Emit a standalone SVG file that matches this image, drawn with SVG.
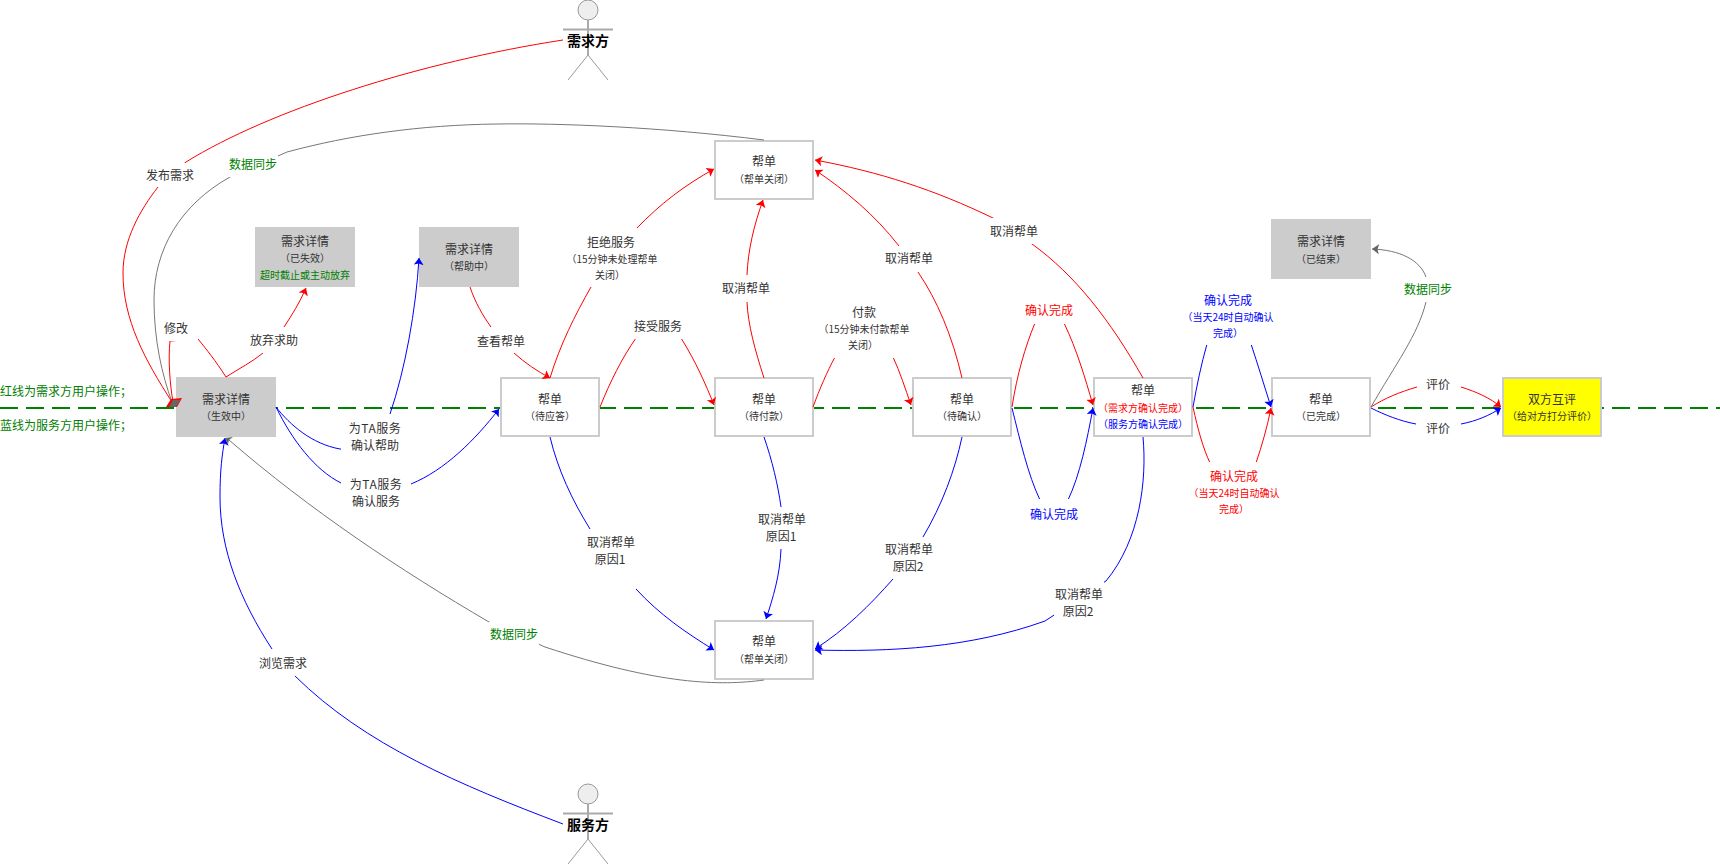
<svg xmlns="http://www.w3.org/2000/svg" width="1720" height="864" viewBox="0 0 1720 864">
<style>
text{font-family:"Noto Sans CJK SC","Microsoft YaHei","Noto Sans",sans-serif;font-size:12px;fill:#333;text-anchor:middle}
.s{font-size:10px}
.g{fill:#008000}
.r{fill:#f00}
.b{fill:#00f}
.ta{letter-spacing:.5px}
.lt{text-anchor:start;fill:#008000}
.bold{font-weight:bold;fill:#000;font-size:14px}
.e{fill:none;stroke-width:1}
.er{stroke:#f00;marker-end:url(#ar)}
.eb{stroke:#00f;marker-end:url(#ab)}
.eg{stroke:#777;marker-end:url(#ag)}
.nr{stroke:#f00;marker-end:none}
.ng{stroke:#777;marker-end:none}
.gn{fill:#ccc;stroke:none}
.wn{fill:#fff;stroke:#ccc;stroke-width:2}
.yn{fill:#ff0;stroke:#ccc;stroke-width:2}
.lb{fill:#fff}
.ac{fill:none;stroke:#999;stroke-width:1}
.ah{fill:#eee;stroke:#999}
.am{fill:none;stroke:#aaa;stroke-width:2}
</style>
<defs>
<marker id="ar" markerUnits="userSpaceOnUse" markerWidth="10" markerHeight="12" refX="7" refY="5" orient="auto"><path d="M0,0 L7,5 L0,10 L1.5,5 Z" fill="#f00"/></marker>
<marker id="ab" markerUnits="userSpaceOnUse" markerWidth="10" markerHeight="12" refX="7" refY="5" orient="auto"><path d="M0,0 L7,5 L0,10 L1.5,5 Z" fill="#00f"/></marker>
<marker id="ag" markerUnits="userSpaceOnUse" markerWidth="10" markerHeight="12" refX="7" refY="5" orient="auto"><path d="M0,0 L7,5 L0,10 L1.5,5 Z" fill="#666"/></marker>
</defs>
<path id="divider" d="M0,408 H1720" fill="none" stroke="#008000" stroke-width="2" stroke-dasharray="18 8"/>
<text class="lt" x="0" y="396">红线为需求方用户操作；</text>
<text class="lt" x="0" y="430">蓝线为服务方用户操作；</text>
<g id="actor-demand"><ellipse class="ah" cx="588" cy="10" rx="10" ry="10"/><path class="ac" d="M588,55 L568,80 M588,55 L608,80"/><path class="am" d="M588,20 V55 M563,29.5 H613"/><text class="bold" x="588" y="46">需求方</text></g>
<g id="actor-service"><ellipse class="ah" cx="588" cy="794" rx="10" ry="10"/><path class="ac" d="M588,839 L568,864 M588,839 L608,864"/><path class="am" d="M588,804 V839 M563,813.5 H613"/><text class="bold" x="588" y="830">服务方</text></g>
<g id="n-active"><rect class="gn" x="176" y="377" width="100" height="60"/><text x="226" y="404">需求详情</text><text class="s" x="226" y="420">（生效中）</text></g>
<g id="n-expired"><rect class="gn" x="255" y="227" width="100" height="60"/><text x="305" y="246">需求详情</text><text class="s" x="305" y="262">（已失效）</text><text class="s g" x="305" y="279">超时截止或主动放弃</text></g>
<g id="n-helping"><rect class="gn" x="419" y="227" width="100" height="60"/><text x="469" y="254">需求详情</text><text class="s" x="469" y="270">（帮助中）</text></g>
<g id="n-ended"><rect class="gn" x="1271" y="219" width="100" height="60"/><text x="1321" y="246">需求详情</text><text class="s" x="1321" y="263">（已结束）</text></g>
<g id="n-closed-top"><rect class="wn" x="715" y="141" width="98" height="58"/><text x="764" y="166">帮单</text><text class="s" x="764" y="183">（帮单关闭）</text></g>
<g id="n-closed-bottom"><rect class="wn" x="715" y="621" width="98" height="58"/><text x="764" y="646">帮单</text><text class="s" x="764" y="663">（帮单关闭）</text></g>
<g id="n-wait-answer"><rect class="wn" x="501" y="378" width="98" height="58"/><text x="550" y="404">帮单</text><text class="s" x="550" y="420">（待应答）</text></g>
<g id="n-wait-pay"><rect class="wn" x="715" y="378" width="98" height="58"/><text x="764" y="404">帮单</text><text class="s" x="764" y="420">（待付款）</text></g>
<g id="n-wait-confirm"><rect class="wn" x="913" y="378" width="98" height="58"/><text x="962" y="404">帮单</text><text class="s" x="962" y="420">（待确认）</text></g>
<g id="n-confirming"><rect class="wn" x="1094" y="378" width="98" height="58"/><text x="1143" y="395">帮单</text><text class="s r" x="1143" y="412">（需求方确认完成）</text><text class="s b" x="1143" y="428">（服务方确认完成）</text></g>
<g id="n-done"><rect class="wn" x="1272" y="378" width="98" height="58"/><text x="1321" y="404">帮单</text><text class="s" x="1321" y="420">（已完成）</text></g>
<g id="n-review"><rect class="yn" x="1503" y="378" width="98" height="58"/><text x="1552" y="404">双方互评</text><text class="s" x="1552" y="420">（给对方打分评价）</text></g>
<g id="connectors">
<path class="e nr" d="M563,40 C420,62 270,110 186,162 L158,187 C140,210 123,240 123,273 C123,320 145,360 172,402"/>
<path class="e nr" d="M226,377 C215,360 207,350 198,339 L170,341 C168,360 170,385 173,402"/>
<path class="e ng" d="M764,140 C660,127 560,123 497,124 C420,125 350,135 287,152 L230,177 C180,205 154,250 154,300 C154,340 162,375 172,402"/>
<path d="M166,407 L171,399 L182,398 L177,407 Z" fill="#f00"/>
<path d="M169,407 L173,400 L180,400 L176,407 Z" fill="#666"/>
<path class="e er" d="M226,377 C240,368 252,362 263,353 L284,327 C292,315 300,302 306,288"/>
<path class="e eb" d="M276,407 C290,425 312,444 340,449 C360,452 380,440 390,414 C405,370 416,310 419,258"/>
<path class="e eb" d="M276,407 C292,440 315,470 341,483 C355,490 395,490 411,484 C445,470 475,440 499,409"/>
<path class="e er" d="M470,287 C475,302 483,316 491,327 L514,353 C525,363 537,371 550,378"/>
<path class="e er" d="M550,378 C560,345 575,315 591,287 L637,228 C660,204 685,185 714,169"/>
<path class="e er" d="M600,407 C610,382 622,358 636,338 L681,338 C696,362 706,385 714,405"/>
<path class="e er" d="M764,378 C755,350 748,325 747,302 L747,275 C748,250 754,225 763,200"/>
<path class="e er" d="M813,407 C820,388 827,372 835,357 L893,357 C900,372 905,388 911,405"/>
<path class="e er" d="M962,378 C952,335 937,300 918,272 L899,246 C875,215 845,190 815,170"/>
<path class="e er" d="M1143,378 C1110,320 1075,275 1032,244 L993,218 C935,190 880,172 815,160"/>
<path class="e er" d="M1012,407 C1017,375 1025,347 1035,323 L1064,323 C1077,350 1085,378 1093,405"/>
<path class="e eb" d="M1012,408 C1020,440 1028,475 1040,500 L1068,500 C1080,475 1087,440 1093,408"/>
<path class="e eb" d="M1193,407 C1197,385 1201,365 1207,344 L1251,344 C1258,365 1264,385 1271,407"/>
<path class="e er" d="M1193,407 C1198,430 1203,448 1210,463 L1256,463 C1262,445 1267,428 1271,408"/>
<path class="e er" d="M1371,407 C1385,398 1400,392 1417,387 L1461,387 C1477,392 1490,398 1501,407"/>
<path class="e eb" d="M1371,408 C1385,415 1400,421 1416,424 L1461,424 C1477,421 1490,415 1501,408"/>
<path class="e eg" d="M1371,407 C1395,365 1418,335 1426,302 L1426,277 C1420,260 1400,250 1372,249"/>
<path class="e eb" d="M550,437 C558,470 572,500 590,529 L636,589 C660,615 685,632 714,650"/>
<path class="e eb" d="M764,437 C772,460 778,485 781,507 L781,549 C780,575 773,598 766,619"/>
<path class="e eb" d="M962,437 C955,470 942,505 923,537 L893,579 C870,605 845,630 815,649"/>
<path class="e eb" d="M1143,437 C1147,480 1140,540 1106,581 L1045,621 C970,648 890,652 815,650"/>
<path class="e eb" d="M563,824 C460,785 365,745 295,676 L272,649 C240,600 220,550 220,497 C220,470 222,455 225,438"/>
<path class="e ng" d="M764,680 C720,686 660,685 545,647 L489,622 C400,570 310,510 229,440"/>
<path d="M233,437 L225,438 L228,444 L229,440 Z" fill="#666"/>
</g>
<g id="label-backgrounds">
<rect class="lb" x="145" y="163" width="50" height="24"/>
<rect class="lb" x="228" y="152" width="50" height="25"/>
<rect class="lb" x="164" y="319" width="34" height="22"/>
<rect class="lb" x="249" y="327" width="50" height="26"/>
<rect class="lb" x="341" y="414" width="69" height="45"/>
<rect class="lb" x="341" y="470" width="70" height="42"/>
<rect class="lb" x="476" y="327" width="50" height="26"/>
<rect class="lb" x="565" y="228" width="94" height="59"/>
<rect class="lb" x="633" y="312" width="50" height="27"/>
<rect class="lb" x="722" y="275" width="50" height="27"/>
<rect class="lb" x="820" y="302" width="90" height="56"/>
<rect class="lb" x="884" y="246" width="50" height="26"/>
<rect class="lb" x="989" y="218" width="50" height="26"/>
<rect class="lb" x="1024" y="297" width="50" height="27"/>
<rect class="lb" x="1029" y="499" width="50" height="27"/>
<rect class="lb" x="1186" y="290" width="90" height="55"/>
<rect class="lb" x="1191" y="462" width="90" height="55"/>
<rect class="lb" x="1417" y="371" width="44" height="23"/>
<rect class="lb" x="1416" y="417" width="45" height="22"/>
<rect class="lb" x="1403" y="277" width="50" height="25"/>
<rect class="lb" x="586" y="529" width="50" height="60"/>
<rect class="lb" x="757" y="507" width="50" height="42"/>
<rect class="lb" x="884" y="537" width="50" height="42"/>
<rect class="lb" x="1054" y="581" width="50" height="40"/>
<rect class="lb" x="489" y="622" width="50" height="25"/>
<rect class="lb" x="258" y="649" width="50" height="27"/>
</g>
<g id="edge-labels" transform="translate(0,1)">
<text x="170" y="179">发布需求</text>
<text class="g" x="253" y="168">数据同步</text>
<text x="176" y="332">修改</text>
<text x="274" y="344">放弃求助</text>
<text class="ta" x="375" y="432">为TA服务</text>
<text x="375" y="449">确认帮助</text>
<text class="ta" x="376" y="488">为TA服务</text>
<text x="376" y="505">确认服务</text>
<text x="501" y="345">查看帮单</text>
<text x="611" y="246">拒绝服务</text>
<text class="s" x="612" y="262">（15分钟未处理帮单</text>
<text class="s" x="610" y="278">关闭）</text>
<text x="658" y="330">接受服务</text>
<text x="746" y="292">取消帮单</text>
<text x="864" y="316">付款</text>
<text class="s" x="864" y="332">（15分钟未付款帮单</text>
<text class="s" x="863" y="348">关闭）</text>
<text x="909" y="262">取消帮单</text>
<text x="1014" y="235">取消帮单</text>
<text class="r" x="1049" y="314">确认完成</text>
<text class="b" x="1054" y="518">确认完成</text>
<text class="b" x="1228" y="304">确认完成</text>
<text class="s b" x="1228" y="320">（当天24时自动确认</text>
<text class="s b" x="1228" y="336">完成）</text>
<text class="r" x="1234" y="480">确认完成</text>
<text class="s r" x="1234" y="496">（当天24时自动确认</text>
<text class="s r" x="1234" y="512">完成）</text>
<text x="1438" y="388">评价</text>
<text x="1438" y="432">评价</text>
<text class="g" x="1428" y="293">数据同步</text>
<text x="611" y="546">取消帮单</text>
<text x="610" y="563">原因1</text>
<text x="782" y="523">取消帮单</text>
<text x="781" y="540">原因1</text>
<text x="909" y="553">取消帮单</text>
<text x="908" y="570">原因2</text>
<text x="1079" y="598">取消帮单</text>
<text x="1078" y="615">原因2</text>
<text class="g" x="514" y="638">数据同步</text>
<text x="283" y="667">浏览需求</text>
</g>
</svg>
